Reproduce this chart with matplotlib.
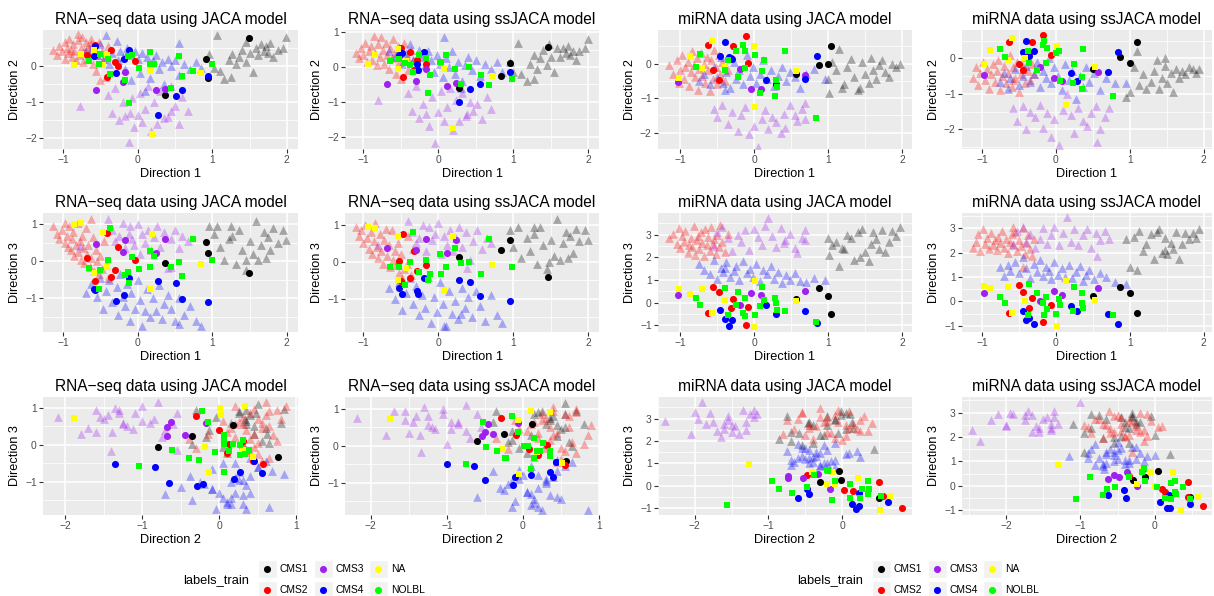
import matplotlib
matplotlib.use("Agg")
import matplotlib.pyplot as plt
from matplotlib.ticker import MultipleLocator
from matplotlib.patches import Rectangle

plt.rcParams['font.family'] = ['Liberation Sans', 'DejaVu Sans']
plt.rcParams['axes.unicode_minus'] = True

W, H = 1214, 596

classes = ['CMS1', 'CMS2', 'CMS3', 'CMS4', 'NA', 'NOLBL']
class_colors = ['#000000', '#FF0000', '#A020F0', '#0000FF', '#FFFF00', '#00FF00']
titles = ['RNA\u2212seq data using JACA model', 'RNA\u2212seq data using ssJACA model',
          'miRNA data using JACA model', 'miRNA data using ssJACA model']

# each point is (Direction 1, Direction 2, Direction 3)
# ---------------- RNA-seq, JACA ----------------
rj_train_cms1 = [(0.95,0.34,0.95),(1.02,-0.05,0.75),(1.07,0.84,0.97),(1.10,-0.13,0.40),(1.16,-0.36,0.03),
    (1.22,0.15,0.60),(1.27,0.33,0.70),(1.32,0.05,-0.06),(1.36,0.25,0.85),(1.40,0.45,0.30),(1.45,0.10,-0.23),
    (1.50,0.35,0.55),(1.54,-0.18,0.20),(1.58,0.50,1.10),(1.62,0.30,0.03),(1.66,0.60,0.45),(1.70,0.40,0.80),
    (1.72,0.55,0.10),(1.75,0.35,0.65),(1.78,0.62,0.30),(1.82,0.25,0.90),(1.88,0.45,0.50),(1.95,0.48,0.86),
    (1.99,0.80,0.59),(1.25,-0.30,0.95),(1.45,0.65,0.05)]
rj_train_cms2 = [(-1.14,0.45,0.97),(-1.08,0.30,0.75),(-1.05,0.55,0.60),(-1.02,0.40,0.85),(-0.98,0.65,0.50),
    (-0.97,0.20,1.05),(-0.95,0.50,0.70),(-0.93,0.35,0.40),(-0.92,0.75,0.95),(-0.90,0.45,0.30),(-0.88,0.25,0.62),
    (-0.87,0.60,0.80),(-0.85,0.40,0.15),(-0.83,0.15,0.45),(-0.80,0.87,1.05),(-0.80,0.70,0.25),(-0.78,0.30,0.55),
    (-0.76,0.50,0.05),(-0.75,0.80,0.70),(-0.73,0.10,0.35),(-0.72,0.45,-0.05),(-0.70,0.65,0.90),(-0.68,0.20,0.20),
    (-0.66,0.55,0.45),(-0.64,0.35,-0.15),(-0.63,0.60,1.15),(-0.62,0.75,0.10),(-0.60,0.05,0.65),(-0.58,0.50,-0.25),
    (-0.56,-0.15,0.30),(-0.54,0.30,0.00),(-0.52,0.65,-0.35),(-0.51,-0.40,0.15),(-0.48,0.40,-0.20),(-0.45,0.20,0.55),
    (-0.42,-0.30,-0.10),(-0.40,0.55,-0.45)]
rj_train_cms3 = [(-0.78,-1.12,0.43),(-0.40,-0.80,1.15),(-0.35,-1.30,0.85),(-0.30,-0.60,0.55),(-0.25,-1.50,0.70),
    (-0.20,-1.00,1.05),(-0.17,-1.40,0.35),(-0.12,-2.10,0.75),(-0.08,-0.90,0.60),(-0.05,-1.70,0.45),(0.00,-1.35,1.00),
    (0.03,-0.75,0.20),(0.06,-1.55,0.75),(0.10,-1.20,0.50),(0.14,-0.55,0.85),(0.18,-1.80,0.30),(0.22,-1.00,0.65),
    (0.26,-1.60,0.95),(0.30,-0.70,0.40),(0.35,-1.45,0.80),(0.40,-1.41,-0.17),(0.45,-1.25,0.60),(0.50,-1.10,0.85),
    (0.55,-1.60,0.35),(0.60,-0.85,0.70),(0.68,-1.25,0.55),(0.45,-0.55,-0.15),(-0.10,-1.30,0.95)]
rj_train_cms4 = [(-0.70,0.40,-0.85),(-0.62,0.50,-0.60),(-0.55,0.30,-0.95),(-0.50,0.60,-0.45),(-0.47,0.20,-1.30),
    (-0.43,0.84,-0.80),(-0.38,0.05,-0.50),(-0.35,0.35,-1.10),(-0.28,0.68,-0.70),(-0.27,0.15,-1.45),(-0.24,0.40,-0.35),
    (-0.20,0.25,-0.95),(-0.17,-0.10,-1.20),(-0.14,0.50,-0.60),(-0.10,0.30,-1.60),(-0.09,-0.38,-0.85),(-0.04,0.40,-1.30),
    (0.00,0.20,-0.50),(0.03,-0.20,-1.05),(0.06,0.35,-1.75),(0.10,-0.71,-1.34),(0.13,0.25,-0.75),(0.16,-0.35,-1.50),
    (0.20,0.15,-1.00),(0.24,0.30,-1.35),(0.28,-0.10,-0.65),(0.32,0.10,-1.55),(0.35,-0.50,-1.15),(0.40,0.20,-0.90),
    (0.45,0.00,-1.30),(0.50,0.15,-1.60),(0.55,-0.25,-1.00),(0.55,0.64,-1.68),(0.62,0.05,-1.45),(0.70,-0.10,-1.20),
    (0.78,0.10,-1.60),(0.85,-0.05,-1.75)]
rj_test_cms1 = [(1.49,0.76,-0.32),(0.91,0.18,0.52),(0.94,-0.35,0.23),(0.37,-0.80,-0.05)]
rj_test_cms2 = [(-0.68,0.31,0.09),(-0.36,0.43,-0.43),(-0.30,0.10,-0.23),(-0.27,-0.01,0.39),(-0.04,0.13,0.03),
    (-0.41,-0.31,0.77),(-0.57,0.57,-0.53)]
rj_test_cms3 = [(-0.56,-0.68,0.48),(-0.17,-0.17,0.59),(-0.20,-0.45,0.25),(0.24,-0.68,0.23),(0.37,-0.63,0.61)]
rj_test_cms4 = [(-0.57,0.55,-0.77),(-0.59,0.27,-0.75),(-0.11,0.45,-0.45),(-0.19,0.19,-0.92),(-0.29,-0.21,-1.07),
    (0.60,-0.66,-1.03),(0.51,-0.84,-0.59),(0.27,-1.35,-0.53),(0.94,-0.29,-1.11)]
rj_test_na = [(-0.86,0.01,1.00),(-0.76,0.33,1.04),(-0.59,0.43,-0.32),(-0.41,0.30,-0.15),(-0.46,0.02,0.79),
    (0.17,-0.14,-0.74),(0.85,-0.19,-0.07),(0.19,-1.89,0.73)]
rj_test_nolbl = [(-0.65,0.12,-0.18),(-0.52,0.06,-0.74),(-0.51,0.33,-0.24),(-0.40,0.18,0.03),(-0.37,-0.22,0.90),
    (-0.17,-0.39,-0.36),(-0.13,0.27,-0.29),(-0.08,0.30,0.12),(0.02,-0.06,-0.20),(0.16,0.39,-0.15),(0.17,0.06,0.27),
    (0.22,0.06,0.14),(0.56,0.27,-0.02),(0.59,-0.27,-0.40),(0.74,-0.15,0.61),(1.00,0.06,0.03),(0.45,-0.62,-0.15),
    (-0.11,-1.04,-0.58)]

# ---------------- RNA-seq, ssJACA ----------------
rs_train_cms1 = [(0.96,0.15,0.85),(1.00,-0.15,0.40),(1.06,0.70,0.95),(1.10,-0.20,0.10),(1.18,-0.40,0.65),
    (1.22,0.10,0.30),(1.27,0.35,0.75),(1.32,-0.05,-0.05),(1.36,0.25,0.95),(1.40,0.50,0.45),(1.45,0.05,-0.20),
    (1.50,0.30,0.60),(1.54,-0.15,0.15),(1.58,0.55,1.15),(1.62,0.30,0.05),(1.66,0.55,0.50),(1.70,0.40,0.80),
    (1.73,0.60,0.10),(1.76,0.35,0.70),(1.79,0.45,0.25),(1.83,0.20,0.90),(1.88,0.45,0.55),(1.95,0.55,0.85),
    (2.00,0.80,0.60),(1.27,-0.35,0.95),(1.48,0.65,0.00)]
rs_train_cms2 = [(-1.10,0.40,0.95),(-1.06,0.25,0.70),(-1.03,0.55,0.85),(-1.00,0.35,0.50),(-0.97,0.70,1.00),
    (-0.95,0.15,0.65),(-0.92,0.45,0.35),(-0.90,0.60,0.80),(-0.88,0.20,0.20),(-0.86,0.90,0.55),(-0.84,0.40,1.05),
    (-0.82,0.05,0.40),(-0.80,0.65,0.10),(-0.78,0.30,0.75),(-0.76,0.85,0.30),(-0.74,0.50,-0.05),(-0.72,0.10,0.60),
    (-0.70,0.70,0.90),(-0.68,0.35,0.15),(-0.66,-0.05,0.45),(-0.64,0.55,-0.15),(-0.62,0.25,0.85),(-0.60,0.80,0.05),
    (-0.58,0.40,0.30),(-0.56,-0.20,-0.10),(-0.54,0.60,0.50),(-0.52,0.15,-0.30),(-0.50,-0.35,0.20),(-0.48,0.45,-0.45),
    (-0.45,0.70,-0.20),(-0.42,0.30,-0.05),(-0.40,-0.10,0.70),(-0.36,0.50,-0.35),(-0.33,0.20,0.35)]
rs_train_cms3 = [(-0.80,-0.95,0.45),(-0.40,-0.75,1.10),(-0.35,-1.25,0.80),(-0.30,-0.55,0.50),(-0.25,-1.45,0.65),
    (-0.20,-1.05,1.00),(-0.16,-1.35,0.30),(-0.12,-1.70,0.95),(-0.08,-0.85,0.60),(-0.04,-2.18,0.75),(0.00,-1.30,1.05),
    (0.04,-0.70,0.20),(0.08,-1.55,0.70),(0.12,-1.15,0.45),(0.16,-0.60,0.85),(0.20,-1.80,0.30),(0.24,-0.95,0.65),
    (0.28,-1.55,0.95),(0.32,-0.75,0.40),(0.37,-1.40,0.80),(0.42,-1.00,0.05),(0.46,-1.25,0.55),(0.52,-1.05,0.85),
    (0.58,-1.50,0.35),(0.65,-0.85,0.65),(0.70,-1.20,0.50),(0.38,-1.34,-0.16)]
rs_train_cms4 = [(-0.65,0.45,-0.70),(-0.58,0.30,-1.00),(-0.52,0.55,-0.55),(-0.48,0.10,-1.30),(-0.43,0.40,-0.85),
    (-0.38,0.65,-0.45),(-0.34,0.20,-1.15),(-0.30,-0.05,-0.65),(-0.26,0.50,-1.45),(-0.22,0.30,-0.90),(-0.18,0.05,-1.25),
    (-0.14,0.45,-0.40),(-0.10,0.20,-1.65),(-0.06,-0.15,-0.95),(-0.02,0.35,-1.35),(0.02,0.10,-0.55),(0.06,-0.30,-1.15),
    (0.10,0.25,-1.75),(0.14,0.00,-0.80),(0.18,0.45,-1.40),(0.22,-0.20,-1.05),(0.27,0.15,-1.55),(0.32,-0.40,-0.70),
    (0.36,0.05,-1.25),(0.40,0.30,-0.95),(0.45,-0.10,-1.50),(0.50,0.20,-0.80),(0.55,-0.25,-1.20),(0.62,0.10,-1.60),
    (0.70,-0.05,-0.90),(0.78,0.15,-1.45),(0.85,-0.15,-1.65),(0.08,0.85,-1.75),(0.30,-0.60,-1.40)]
rs_test_cms1 = [(1.46,0.56,-0.41),(0.95,0.12,0.60),(0.84,-0.25,0.33),(0.28,-0.61,0.12)]
rs_test_cms2 = [(-0.47,-0.29,0.74),(-0.32,-0.09,0.29),(-0.16,0.08,-0.10),(-0.28,0.20,-0.25),(-0.52,0.32,0.02),
    (-0.37,0.43,-0.44),(-0.50,0.55,-0.52)]
rs_test_cms3 = [(-0.68,-0.50,0.36),(-0.29,-0.39,0.32),(-0.16,-0.06,0.62),(0.12,-0.54,0.25),(0.24,-0.46,0.59)]
rs_test_cms4 = [(-0.52,0.35,-0.72),(-0.48,0.39,-0.86),(-0.19,0.43,-0.44),(-0.28,0.10,-0.79),(-0.27,-0.10,-0.86),
    (0.96,-0.13,-1.06),(0.56,-0.50,-0.93),(0.42,-0.64,-0.55),(0.28,-1.00,-0.50)]
rs_test_na = [(-0.93,0.10,0.94),(-0.84,0.35,0.91),(-0.54,-0.07,0.69),(-0.54,0.51,-0.48),(-0.43,0.18,-0.16),
    (0.08,-0.05,-0.77),(0.72,-0.27,-0.09),(0.20,-1.75,0.71)]
rs_test_nolbl = [(-0.64,0.18,-0.14),(-0.52,0.22,-0.14),(-0.38,0.07,-0.01),(-0.33,-0.15,0.80),(-0.25,0.35,-0.28),
    (-0.16,0.27,0.06),(-0.11,-0.24,-0.34),(-0.13,-0.75,-0.50),(-0.44,0.11,-0.64),(0.03,0.15,0.20),(0.04,0.15,-0.34),
    (0.10,0.35,-0.14),(0.22,-0.06,0.37),(0.31,-0.48,-0.03),(0.41,0.01,-0.01),(0.57,-0.22,-0.34),(0.68,-0.53,0.63),
    (0.98,-0.34,-0.14)]

# ---------------- miRNA, JACA ----------------
mj_train_cms1 = [(0.99,-0.45,2.85),(1.01,-0.85,2.10),(1.05,0.05,2.55),(1.11,-0.20,2.70),(1.14,0.43,1.62),
    (1.18,-0.70,2.40),(1.21,-0.58,2.36),(1.25,-0.10,3.00),(1.30,0.13,2.85),(1.35,-0.40,1.90),(1.40,-0.75,3.10),
    (1.43,-0.70,2.00),(1.46,0.05,3.25),(1.50,-0.30,2.25),(1.55,-0.55,1.84),(1.58,0.15,2.60),(1.61,-0.20,3.10),
    (1.64,-0.46,2.80),(1.68,-0.05,2.35),(1.73,0.11,3.19),(1.77,-0.25,2.25),(1.82,-0.40,2.70),(1.86,-0.01,3.17),
    (1.92,-0.10,2.95),(1.97,-0.01,3.32)]
mj_train_cms2 = [(-1.15,-0.05,2.85),(-1.10,-0.30,3.05),(-1.05,0.10,2.60),(-1.02,-0.55,3.30),(-1.00,-0.20,2.40),
    (-0.98,0.25,2.95),(-0.95,-0.45,2.70),(-0.93,-0.10,3.15),(-0.90,0.05,2.20),(-0.88,-0.65,2.55),(-0.86,-0.25,2.85),
    (-0.84,0.35,2.45),(-0.82,-0.05,3.40),(-0.80,-0.40,2.10),(-0.78,0.15,2.75),(-0.76,-0.75,2.95),(-0.74,-0.15,2.35),
    (-0.72,0.30,3.10),(-0.70,-0.35,2.65),(-0.68,0.00,2.05),(-0.66,-0.55,3.25),(-0.64,0.20,2.55),(-0.62,-0.20,2.90),
    (-0.60,-0.80,2.30),(-0.58,0.10,3.35),(-0.56,-0.45,2.60),(-0.54,0.40,2.80),(-0.52,-0.10,2.15),(-0.50,-0.60,3.00),
    (-0.48,0.25,2.45),(-0.46,-0.30,3.45),(-0.44,0.05,2.70),(-0.40,-0.50,2.25),(-0.35,-0.20,3.05)]
mj_train_cms3 = [(-0.55,-1.30,2.50),(-0.50,-1.55,3.10),(-0.43,-1.20,3.36),(-0.35,-1.75,2.85),(-0.30,-1.40,2.30),
    (-0.22,-1.95,3.00),(-0.18,-1.50,2.70),(-0.12,-1.25,3.20),(-0.07,-2.05,2.33),(0.00,-1.80,3.25),(0.05,-2.40,2.90),
    (0.10,-1.60,2.55),(0.15,-1.35,3.40),(0.19,-1.90,3.73),(0.24,-1.55,2.95),(0.30,-1.70,2.45),(0.36,-2.00,3.30),
    (0.40,-1.45,2.65),(0.42,-1.85,2.77),(0.48,-1.20,3.05),(0.55,-1.50,2.40),(0.58,-1.65,2.18),(0.64,-1.30,2.85),
    (0.69,-1.15,3.20),(0.69,-1.60,2.77)]
mj_train_cms4 = [(-0.75,-0.50,1.70),(-0.68,-0.30,1.45),(-0.60,-0.60,1.25),(-0.55,-0.10,1.90),(-0.50,-0.40,1.05),
    (-0.45,0.20,1.55),(-0.42,-0.55,1.35),(-0.38,-0.25,1.80),(-0.33,-0.70,1.15),(-0.28,0.05,1.40),(-0.24,-0.45,1.60),
    (-0.20,-0.20,1.00),(-0.15,-0.60,1.85),(-0.10,0.25,1.30),(-0.06,-0.35,1.50),(-0.02,-0.10,1.15),(0.03,-0.55,1.70),
    (0.08,-0.30,0.95),(0.12,0.10,1.45),(0.17,-0.45,1.25),(0.22,-0.20,1.60),(0.27,-0.65,1.05),(0.32,-0.35,1.35),
    (0.38,-0.10,0.85),(0.43,-0.50,1.20),(0.48,-0.25,1.00),(0.55,-0.40,1.30),(0.62,-0.70,0.95),(0.70,-0.30,0.90),
    (0.80,-0.15,1.10),(0.95,-0.45,1.00),(-0.40,-0.75,1.55)]
mj_test_cms1 = [(1.04,0.50,-0.52),(1.00,-0.01,0.28),(0.87,-0.04,0.65),(0.56,-0.30,0.18)]
mj_test_cms2 = [(-0.11,0.81,-0.98),(-0.63,0.55,-0.46),(-0.29,0.50,0.18),(-0.08,0.03,-0.19),(-0.56,-0.19,0.70),
    (-0.47,-0.48,0.47),(-0.31,0.15,-0.22)]
mj_test_cms3 = [(-1.03,-0.53,0.33),(-0.19,-0.16,-0.12),(-0.04,-0.73,0.43),(0.09,-0.73,0.33),(0.69,-0.33,0.52)]
mj_test_cms4 = [(-0.39,0.62,-0.71),(-0.46,0.23,-0.34),(-0.34,0.19,-1.04),(-0.30,0.13,-0.79),(0.16,-0.48,-0.12),
    (0.29,-0.60,-0.52),(0.85,0.23,-0.90),(0.68,-0.45,-0.37)]
mj_test_na = [(-0.87,0.21,0.37),(-0.57,0.65,-0.44),(-0.70,-0.14,0.62),(-0.40,-0.09,0.10),(-0.01,0.52,-1.08),
    (-1.02,-0.41,0.62),(0.56,-0.21,0.07),(0.01,-1.26,0.96)]
mj_test_nolbl = [(-0.73,0.27,-0.12),(-0.79,-0.09,0.21),(-0.39,-0.19,0.65),(-0.35,0.11,-0.56),(-0.25,0.37,-0.12),
    (-0.15,0.53,-0.44),(-0.13,0.35,0.21),(-0.13,-0.14,-0.61),(-0.22,-0.38,0.47),(0.01,0.24,-0.56),(0.13,0.11,0.10),
    (0.11,-0.21,0.70),(0.08,-0.85,-0.16),(0.29,-0.48,-0.04),(0.31,-0.68,-0.34),(0.28,-0.95,0.21),(0.41,0.35,-0.37),
    (0.83,-1.56,-0.86)]

# ---------------- miRNA, ssJACA ----------------
ms_train_cms1 = [(0.95,-1.10,2.55),(1.00,-0.95,1.40),(1.05,-0.25,2.65),(1.09,0.20,1.30),(1.12,-0.75,2.90),
    (1.18,-0.45,2.05),(1.22,-0.85,2.35),(1.28,-0.65,2.75),(1.32,-0.35,1.75),(1.36,-0.05,2.85),(1.40,-0.85,2.95),
    (1.44,-0.55,2.00),(1.47,-0.20,2.60),(1.50,-0.70,1.95),(1.55,-0.40,2.40),(1.58,-0.95,2.15),(1.62,-0.30,2.85),
    (1.66,-0.55,1.75),(1.70,-0.35,2.35),(1.75,-0.45,2.80),(1.80,-0.25,2.55),(1.85,-0.30,2.80),(1.90,-0.40,2.60),
    (1.94,-0.30,2.98),(1.48,0.00,2.10)]
ms_train_cms2 = [(-1.12,-0.55,2.20),(-1.08,-0.25,2.45),(-1.05,-0.75,2.75),(-1.02,-0.40,2.05),(-0.98,-0.10,2.95),
    (-0.96,-0.60,2.35),(-0.93,-0.30,2.60),(-0.90,-0.85,2.15),(-0.88,-0.45,2.80),(-0.85,-0.15,2.30),(-0.82,-0.65,2.50),
    (-0.80,-0.35,2.10),(-0.78,-0.05,2.65),(-0.76,-0.90,2.40),(-0.73,-0.50,2.90),(-0.70,-0.20,2.20),(-0.68,-0.70,2.55),
    (-0.65,-0.40,2.00),(-0.62,0.10,2.45),(-0.60,-0.80,2.75),(-0.58,-0.25,2.30),(-0.55,-0.55,2.85),(-0.52,-0.10,2.05),
    (-0.50,-0.95,2.50),(-0.47,-0.45,2.25),(-0.45,-0.20,3.00),(-0.42,-0.70,1.95),(-0.40,0.05,2.40),(-0.38,-0.35,2.70),
    (-0.35,-0.60,2.15),(-0.33,-0.15,1.85),(-0.30,-0.45,2.55),(-0.45,-0.30,1.40),(-0.58,-0.62,3.05)]
ms_train_cms3 = [(-0.58,-1.40,2.35),(-0.52,-1.75,2.90),(-0.45,-1.35,3.05),(-0.40,-2.00,2.45),(-0.35,-1.50,2.75),
    (-0.28,-1.65,2.20),(-0.22,-1.30,2.55),(-0.17,-1.95,3.00),(-0.12,-1.55,2.35),(-0.07,-2.20,2.70),(-0.02,-1.70,3.05),
    (0.04,-2.45,2.30),(0.09,-1.45,2.80),(0.15,-1.00,3.45),(0.20,-1.60,2.45),(0.25,-2.10,2.95),(0.30,-1.40,2.30),
    (0.36,-1.75,2.70),(0.42,-1.90,2.95),(0.48,-1.55,2.20),(0.54,-1.35,2.80),(0.60,-2.00,2.50),(0.66,-1.65,2.90),
    (0.72,-1.40,2.55),(0.55,-2.35,1.85)]
ms_train_cms4 = [(-0.75,-0.65,1.40),(-0.70,-0.40,1.05),(-0.62,-0.55,1.25),(-0.55,-0.30,1.60),(-0.50,-0.75,1.15),
    (-0.45,-0.50,1.80),(-0.40,-0.20,1.35),(-0.35,-0.65,0.95),(-0.30,-0.45,1.55),(-0.26,-0.10,1.20),(-0.22,-0.80,1.70),
    (-0.18,-0.35,1.05),(-0.14,-0.55,1.40),(-0.10,0.00,1.25),(-0.06,-0.70,0.90),(-0.02,-0.25,1.60),(0.03,-0.50,1.10),
    (0.08,-0.90,1.35),(0.12,-0.15,1.00),(0.17,-0.60,1.50),(0.22,-0.35,0.95),(0.27,-1.15,1.20),(0.32,-0.50,1.45),
    (0.36,-0.80,0.85),(0.40,-0.25,1.10),(0.45,-0.65,1.30),(0.52,-0.40,0.90),(0.60,-0.90,1.15),(0.68,-0.55,1.00),
    (0.80,-0.70,0.80),(0.95,-0.68,0.70),(-0.65,-0.85,1.50)]
ms_test_cms1 = [(1.10,0.47,-0.48),(0.86,0.05,0.60),(1.00,-0.13,0.34),(0.50,-0.29,0.23)]
ms_test_cms2 = [(-0.17,0.65,-0.84),(-0.63,0.45,-0.48),(-0.33,0.45,0.14),(-0.37,0.14,-0.27),(-0.07,0.10,-0.15),
    (-0.50,-0.16,0.67),(-0.45,-0.34,0.40)]
ms_test_cms3 = [(-0.97,-0.48,0.34),(-0.22,-0.24,0.00),(-0.02,-0.55,0.44),(0.57,-0.37,0.55),(0.08,-0.63,0.26)]
ms_test_cms4 = [(-0.40,0.48,-0.75),(-0.44,0.19,-0.38),(-0.30,0.21,-0.93),(-0.37,0.07,-0.66),(0.84,0.17,-0.93),
    (0.21,-0.41,-0.18),(0.28,-0.63,-0.38),(0.71,-0.38,-0.52)]
ms_test_na = [(-0.89,0.24,0.55),(-0.60,0.58,-0.48),(-0.65,-0.05,0.58),(-0.97,-0.17,0.64),(-0.42,0.00,0.00),
    (0.02,0.36,-1.00),(0.53,-0.24,0.07),(0.13,-1.30,0.85)]
ms_test_nolbl = [(-0.75,0.27,0.19),(-0.69,0.03,-0.07),(-0.37,-0.14,0.71),(-0.38,0.22,-0.56),(-0.25,-0.34,0.34),
    (-0.18,0.38,-0.07),(-0.16,0.48,-0.56),(-0.13,-0.13,0.19),(-0.12,0.29,-0.32),(0.00,0.14,-0.52),(0.04,0.22,0.10),
    (0.06,-0.64,-0.15),(0.25,-0.17,0.58),(0.23,-0.70,-0.38),(0.36,0.27,-0.27),(0.35,-0.53,-0.07),(0.35,-0.87,0.34),
    (0.77,-1.06,-0.56)]

# axis limits per model: rows (D1 vs D2, D1 vs D3, D2 vs D3)
rj_limits = [((-1.27, 2.15), (-2.30, 0.99)), ((-1.27, 2.15), (-1.91, 1.31)), ((-2.29, 1.02), (-1.90, 1.29))]
rs_limits = [((-1.24, 2.14), (-2.35, 1.06)), ((-1.24, 2.14), (-1.90, 1.32)), ((-2.34, 1.00), (-1.88, 1.32))]
mj_limits = [((-1.30, 2.13), (-2.47, 0.97)), ((-1.30, 2.13), (-1.30, 3.96)), ((-2.50, 0.95), (-1.30, 3.96))]
ms_limits = [((-1.27, 2.11), (-2.55, 0.80)), ((-1.27, 2.11), (-1.25, 3.62)), ((-2.59, 0.77), (-1.20, 3.64))]

models = [
    ([rj_train_cms1, rj_train_cms2, rj_train_cms3, rj_train_cms4],
     [rj_test_cms1, rj_test_cms2, rj_test_cms3, rj_test_cms4, rj_test_na, rj_test_nolbl], rj_limits),
    ([rs_train_cms1, rs_train_cms2, rs_train_cms3, rs_train_cms4],
     [rs_test_cms1, rs_test_cms2, rs_test_cms3, rs_test_cms4, rs_test_na, rs_test_nolbl], rs_limits),
    ([mj_train_cms1, mj_train_cms2, mj_train_cms3, mj_train_cms4],
     [mj_test_cms1, mj_test_cms2, mj_test_cms3, mj_test_cms4, mj_test_na, mj_test_nolbl], mj_limits),
    ([ms_train_cms1, ms_train_cms2, ms_train_cms3, ms_train_cms4],
     [ms_test_cms1, ms_test_cms2, ms_test_cms3, ms_test_cms4, ms_test_na, ms_test_nolbl], ms_limits),
]

pairs = [(0, 1), (0, 2), (1, 2)]
col_px = [(43, 298), (345, 599), (658, 912), (962, 1212)]
row_px = [(30, 149), (213, 332), (397, 515)]

fig = plt.figure(figsize=(W / 100, H / 100), dpi=100)

for m, (train, test, limits) in enumerate(models):
    x0, x1 = col_px[m]
    for r, (y0, y1) in enumerate(row_px):
        ax = fig.add_axes([x0 / W, 1 - y1 / H, (x1 - x0) / W, (y1 - y0) / H])
        ax.set_facecolor('#EBEBEB')
        i, j = pairs[r]
        for pts, c in zip(train, class_colors[:4]):
            ax.scatter([p[i] for p in pts], [p[j] for p in pts], marker='^', s=40,
                       color=c, alpha=0.3, linewidths=0, zorder=2)
        for k, (pts, c) in enumerate(zip(test, class_colors)):
            ax.scatter([p[i] for p in pts], [p[j] for p in pts], marker='o' if k < 4 else 's',
                       s=26 if k < 4 else 24, color=c, linewidths=0, zorder=3)
        ax.set_xlim(*limits[r][0])
        ax.set_ylim(*limits[r][1])
        for axis in (ax.xaxis, ax.yaxis):
            axis.set_major_locator(MultipleLocator(1))
            axis.set_minor_locator(MultipleLocator(0.5))
        ax.grid(which='major', color='white', linewidth=1.1)
        ax.grid(which='minor', color='white', linewidth=0.55)
        ax.set_axisbelow(True)
        for s in ax.spines.values():
            s.set_visible(False)
        ax.tick_params(which='major', length=3, width=0.8, color='#333333',
                       labelsize=7.4, labelcolor='#4D4D4D', pad=1.5)
        ax.tick_params(which='minor', length=0)
        ax.set_title(titles[m], fontsize=11.2, pad=4)
        ax.set_xlabel('Direction %d' % (i + 1), fontsize=9.2, labelpad=2)
        ax.set_ylabel('Direction %d' % (j + 1), fontsize=9.2, labelpad=3)

# legends (one per data type), drawn in pixel coordinates
leg = fig.add_axes([0, 0, 1, 1], zorder=-1)
leg.set_xlim(0, W)
leg.set_ylim(H, 0)
leg.axis('off')
key_x = [267, 323, 378]
key_y = [569, 590]
for dx in (0, 614):
    leg.text(183 + dx, 580, 'labels_train', fontsize=9.3, va='center', ha='left')
    for k, (name, c) in enumerate(zip(classes, class_colors)):
        cx = key_x[k // 2] + dx
        cy = key_y[k % 2]
        leg.add_patch(Rectangle((cx - 9.5, cy - 9), 19, 18, facecolor='#F2F2F2', edgecolor='white', lw=1))
        leg.scatter([cx], [cy], s=26, color=c, linewidths=0)
        leg.text(cx + 13, cy, name, fontsize=7.4, va='center', ha='left')

fig.savefig('out.png', dpi=100)
